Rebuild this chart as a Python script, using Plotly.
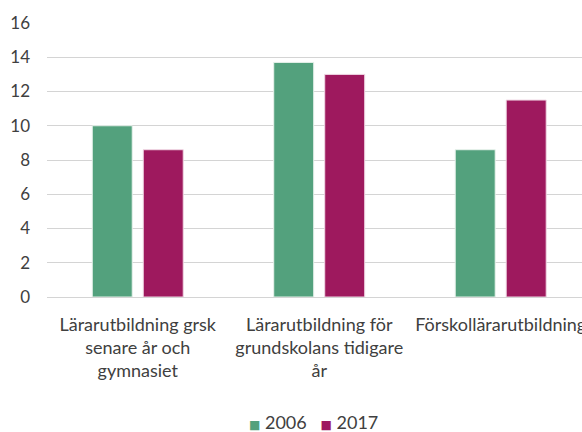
import plotly.graph_objects as go

categories = [
    "Lärarutbildning grsk<br>senare år och<br>gymnasiet",
    "Lärarutbildning för<br>grundskolans tidigare<br>år",
    "Förskollärarutbildning",
]
series_names = ["2006", "2017"]
values_2006 = [10.0, 13.7, 8.6]
values_2017 = [8.6, 13.0, 11.5]
y_ticks = [0, 2, 4, 6, 8, 10, 12, 14, 16]

green = "#53A17D"
magenta = "#9E195E"
text_color = "#404040"
font_family = "Lato, 'Open Sans', sans-serif"

fig = go.Figure()
xs = list(range(len(categories)))
fig.add_trace(go.Bar(
    x=xs, y=values_2006, name=series_names[0],
    marker=dict(color=green, line=dict(color="#E8F2EC", width=1)),
))
fig.add_trace(go.Bar(
    x=xs, y=values_2017, name=series_names[1],
    marker=dict(color=magenta, line=dict(color="#F0D8E4", width=1)),
))

fig.update_layout(
    width=582, height=432,
    margin=dict(l=47, r=0, t=23, b=135, autoexpand=False),
    paper_bgcolor="white", plot_bgcolor="white",
    barmode="group", bargap=0.438, bargroupgap=0.216,
    font=dict(family=font_family, size=18, color=text_color),
    showlegend=False,
)
# the right-hand category label runs off the edge, as in the reference
fig.update_xaxes(
    tickvals=xs, ticktext=categories,
    range=[-0.5, 2.448], automargin=False,
    showgrid=False, zeroline=False, showline=False,
    ticks="outside", ticklen=11, tickcolor="rgba(0,0,0,0)",
    tickfont=dict(size=18), ticklabeloverflow="allow",
)
fig.update_yaxes(
    range=[0, 16], tickvals=y_ticks, automargin=False,
    showgrid=True, gridcolor="#D4D4D4", gridwidth=1,
    zeroline=True, zerolinecolor="#D4D4D4", zerolinewidth=1,
    showline=False, ticks="", ticklabelstandoff=16,
    tickfont=dict(size=17),
)

# legend drawn as one line of text, like the compact legend in the reference
legend_text = "&nbsp;&nbsp;&nbsp;".join(
    f"<span style='color:{c};font-family:DejaVu Sans;font-size:12px'>■</span> {n}"
    for c, n in zip([green, magenta], series_names)
)
fig.add_annotation(
    text=legend_text, showarrow=False,
    xref="paper", yref="paper",
    x=(313 - 47) / 535, xanchor="center",
    y=-(422 - 297) / 274, yanchor="middle",
    font=dict(size=18, color=text_color),
)

fig.write_html(
    "out.html",
    config={"displayModeBar": False},
    post_script="document.body.style.margin='0';",
)
